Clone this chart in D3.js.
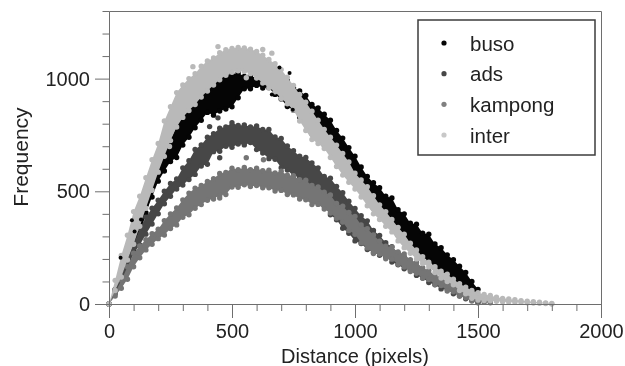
<!DOCTYPE html>
<html>
<head>
<meta charset="utf-8">
<script src="https://cdn.jsdelivr.net/npm/d3@7"></script>
<style>
  html, body { margin: 0; padding: 0; background: #fff; overflow: hidden; }
  svg { display: block; filter: blur(0.55px); }
  text { font-family: "Liberation Sans", Arial, sans-serif; fill: #222; }
</style>
</head>
<body>
<div id="chart"></div>
<script>
// Distance axis positions shared by all the series (read every 25 pixels)
const distances = [0, 25, 50, 75, 100, 125, 150, 175, 200, 225, 250, 275, 300, 325, 350, 375, 400, 425, 450, 475, 500, 525, 550, 575, 600, 625, 650, 675, 700, 725, 750, 775, 800, 825, 850, 875, 900, 925, 950, 975, 1000, 1025, 1050, 1075, 1100, 1125, 1150, 1175, 1200, 1225, 1250, 1275, 1300, 1325, 1350, 1375, 1400, 1425, 1450, 1475, 1500, 1525, 1550, 1575, 1600, 1625, 1650, 1675, 1700, 1725, 1750, 1775, 1800];

// Lower and upper edge of each cloud of dots
const busoLow = [0, 55, 115, 175, 240, 300, 405, 475, 545, 590, 632, 650, 705, 740, 782, 815, 850, 838, 856, 865, 875, 915, 955, 955, 970, 958, 960, 930, 910, 876, 860, 830, 800, 755, 740, 705, 680, 635, 606, 565, 540, 500, 470, 425, 410, 370, 356, 305, 290, 250, 236, 205, 195, 160, 146, 120, 110, 80, 70, 40, 28];
const busoHigh = [0, 65, 130, 210, 290, 365, 440, 530, 610, 680, 730, 790, 840, 870, 900, 930, 960, 985, 1005, 1015, 1018, 1025, 1010, 1015, 1000, 1010, 1020, 1000, 985, 990, 960, 945, 925, 885, 870, 842, 815, 770, 736, 694, 656, 608, 566, 538, 516, 478, 470, 418, 400, 358, 354, 314, 310, 266, 250, 218, 196, 168, 140, 100, 65];

const adsLow = [0, 45, 95, 155, 225, 262, 310, 355, 400, 445, 478, 510, 528, 552, 575, 612, 620, 676, 678, 700, 695, 710, 706, 716, 685, 670, 645, 642, 605, 594, 568, 564, 526, 504, 460, 434, 396, 374, 336, 314, 280, 268, 242, 228, 216, 208, 186, 174, 156, 151, 127, 115, 95, 85, 67, 64, 45, 38, 23, 16, 5];
const adsHigh = [0, 60, 125, 195, 265, 335, 385, 425, 460, 500, 535, 555, 604, 636, 686, 706, 740, 756, 780, 786, 804, 792, 794, 786, 790, 774, 774, 741, 734, 701, 680, 656, 650, 626, 604, 566, 558, 522, 494, 456, 424, 392, 369, 326, 304, 272, 254, 227, 209, 182, 168, 147, 133, 107, 98, 77, 65, 46, 37, 20, 10];

const kampongLow = [0, 35, 70, 110, 165, 205, 240, 265, 290, 306, 335, 351, 385, 396, 425, 441, 460, 466, 483, 486, 519, 518, 529, 521, 526, 516, 516, 501, 504, 486, 484, 466, 462, 441, 442, 421, 404, 381, 364, 326, 309, 271, 249, 224, 222, 201, 199, 176, 164, 144, 136, 114, 109, 86, 82, 58, 54, 34, 28, 13, 12, 7, 5];
const kampongHigh = [0, 50, 105, 165, 225, 258, 285, 312, 332, 370, 400, 426, 462, 492, 514, 526, 544, 556, 579, 584, 602, 596, 606, 596, 602, 591, 594, 581, 589, 571, 569, 551, 549, 526, 519, 496, 484, 446, 434, 406, 389, 351, 334, 306, 279, 256, 252, 231, 222, 196, 184, 161, 149, 126, 119, 96, 89, 66, 58, 37, 32, 20, 12];

const interLow = [0, 60, 120, 195, 265, 345, 425, 505, 585, 655, 725, 785, 828, 858, 885, 918, 945, 972, 995, 1015, 1028, 1035, 1032, 1022, 1003, 980, 960, 942, 912, 888, 860, 812, 770, 730, 712, 690, 650, 610, 572, 540, 510, 475, 436, 400, 375, 345, 320, 280, 250, 225, 200, 180, 165, 140, 115, 100, 85, 60, 45, 25, 18, 15, 14, 12, 10, 9, 8, 7, 5, 4, 3, 2, 0];
const interHigh = [0, 105, 215, 305, 410, 478, 560, 640, 712, 812, 875, 938, 972, 1000, 1022, 1055, 1078, 1092, 1115, 1128, 1134, 1138, 1136, 1131, 1120, 1104, 1085, 1066, 1040, 1006, 970, 930, 895, 855, 815, 775, 740, 705, 668, 630, 580, 550, 520, 480, 440, 410, 375, 340, 310, 270, 240, 210, 185, 165, 145, 132, 110, 90, 75, 60, 50, 42, 38, 30, 25, 22, 19, 15, 12, 10, 8, 5, 2];

// Stray dots that sit away from the clouds or show on top of another series
const busoStray = [[734, 1025], [693, 1049], [662, 929], [747, 862], [93, 372], [47, 205], [104, 322], [130, 375]];
const adsStray = [[443, 826], [450, 649], [409, 787]];
const kampongStray = [[628, 640], [558, 649], [450, 470]];
const interStray = [[341, 1053], [443, 1142], [625, 1129], [662, 1113], [558, 1004], [246, 699]];

const seriesNames = ["buso", "ads", "kampong", "inter"];
const seriesColors = ["#050505", "#474747", "#757575", "#b9b9b9"];
const legendColors = ["#050505", "#474747", "#808080", "#c8c8c8"];

const xMajor = [0, 500, 1000, 1500, 2000];
const xMinor = [100, 200, 300, 400, 600, 700, 800, 900, 1100, 1200, 1300, 1400, 1600, 1700, 1800, 1900];
const yMajor = [0, 500, 1000];
const yMinor = [100, 200, 300, 400, 600, 700, 800, 900, 1100, 1200, 1300];

function createChart() {
  const width = 625;
  const height = 366;
  const dotRadius = 2.7;

  const x = d3.scaleLinear().domain([0, 2000]).range([109, 601]);
  const y = d3.scaleLinear().domain([0, 1300]).range([304, 11]);

  const svg = d3.select("#chart")
    .append("svg")
    .attr("width", width)
    .attr("height", height)
    .attr("viewBox", [0, 0, width, height]);

  const lows = [busoLow, adsLow, kampongLow, interLow];
  const highs = [busoHigh, adsHigh, kampongHigh, interHigh];
  const strays = [busoStray, adsStray, kampongStray, interStray];

  // The clouds are so dense they read as solid bands: fill between the edges,
  // then dot both edges so the outline stays lumpy
  const area = d3.area()
    .x(d => x(d.distance))
    .y0(d => y(d.low))
    .y1(d => y(d.high));

  seriesNames.forEach((name, i) => {
    const rows = lows[i].map((low, j) => ({ distance: distances[j], low: low, high: highs[i][j] }));
    const group = svg.append("g").attr("class", name);

    group.append("path")
      .datum(rows)
      .attr("fill", seriesColors[i])
      .attr("d", area);

    group.selectAll("circle.low")
      .data(rows)
      .join("circle")
      .attr("class", "low")
      .attr("cx", d => x(d.distance))
      .attr("cy", d => y(d.low))
      .attr("r", dotRadius)
      .attr("fill", seriesColors[i]);

    group.selectAll("circle.high")
      .data(rows)
      .join("circle")
      .attr("class", "high")
      .attr("cx", d => x(d.distance))
      .attr("cy", d => y(d.high))
      .attr("r", dotRadius)
      .attr("fill", seriesColors[i]);
  });

  // Strays go last, otherwise the later bands hide them
  seriesNames.forEach((name, i) => {
    svg.append("g")
      .selectAll("circle")
      .data(strays[i])
      .join("circle")
      .attr("cx", d => x(d[0]))
      .attr("cy", d => y(d[1]))
      .attr("r", name === "buso" ? 2 : dotRadius)
      .attr("fill", seriesColors[i]);
  });

  // Axes
  const axes = svg.append("g").attr("class", "axes");

  axes.append("g")
    .attr("transform", `translate(${x(0)},0)`)
    .call(d3.axisLeft(y).tickValues(yMinor).tickSize(6.5).tickSizeOuter(0).tickFormat(""));
  axes.append("g")
    .attr("transform", `translate(${x(0)},0)`)
    .call(d3.axisLeft(y).tickValues(yMajor).tickSize(14).tickSizeOuter(0).tickPadding(5).tickFormat(d3.format("d")));
  axes.append("g")
    .attr("transform", `translate(0,${y(0)})`)
    .call(d3.axisBottom(x).tickValues(xMinor).tickSize(7).tickSizeOuter(0).tickFormat(""));
  axes.append("g")
    .attr("transform", `translate(0,${y(0)})`)
    .call(d3.axisBottom(x).tickValues(xMajor).tickSize(14).tickSizeOuter(0).tickPadding(6).tickFormat(d3.format("d")));
  axes.append("g")
    .attr("transform", `translate(0,${y(1300)})`)
    .call(d3.axisTop(x).tickValues([]).tickSizeOuter(0));
  axes.append("g")
    .attr("transform", `translate(${x(2000)},0)`)
    .call(d3.axisRight(y).tickValues([]).tickSizeOuter(0));

  axes.selectAll("path.domain, line").attr("stroke", "#6e6e6e").attr("stroke-width", 1);
  axes.selectAll("text").attr("font-size", 20).attr("fill", "#222");

  svg.append("text")
    .attr("transform", `translate(28,${y(652)}) rotate(-90)`)
    .attr("text-anchor", "middle")
    .attr("font-size", 21)
    .text("Frequency");

  svg.append("text")
    .attr("x", x(1000))
    .attr("y", 363)
    .attr("text-anchor", "middle")
    .attr("font-size", 20)
    .text("Distance (pixels)");

  // Legend
  const legendY = d3.scalePoint().domain(seriesNames).range([43, 135]);
  const legend = svg.append("g").attr("class", "legend");

  legend.append("rect")
    .attr("x", 418)
    .attr("y", 20)
    .attr("width", 177)
    .attr("height", 135)
    .attr("fill", "#fff")
    .attr("stroke", "#3c3c3c")
    .attr("stroke-width", 1.5);

  legend.selectAll("circle")
    .data(seriesNames)
    .join("circle")
    .attr("cx", 444)
    .attr("cy", d => legendY(d))
    .attr("r", 2.6)
    .attr("fill", (d, i) => legendColors[i]);

  legend.selectAll("text")
    .data(seriesNames)
    .join("text")
    .attr("x", 470)
    .attr("y", d => legendY(d) + 7.5)
    .attr("font-size", 20.5)
    .text(d => d);
}

createChart();
</script>
</body>
</html>
